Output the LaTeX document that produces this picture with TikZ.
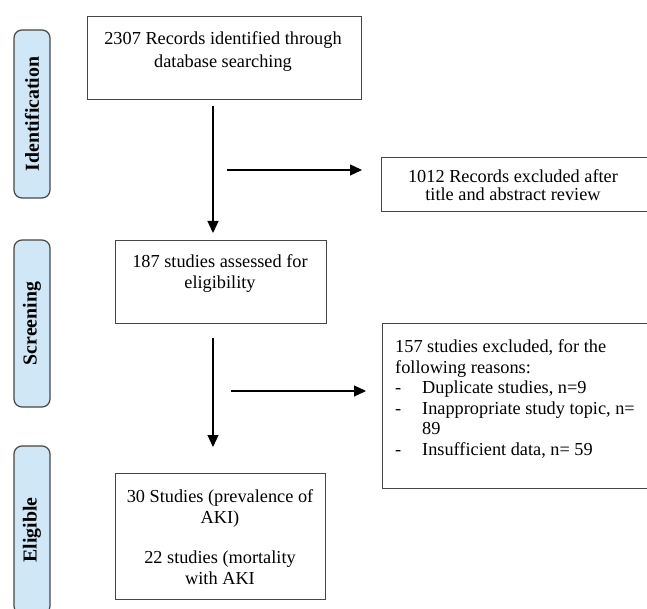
\documentclass[tikz,border=0pt]{standalone}
\usepackage{fontspec}
\setmainfont{Liberation Serif}
\usetikzlibrary{arrows.meta}
\definecolor{stagefill}{RGB}{207,231,246}
\definecolor{boxline}{RGB}{70,70,70}
\tikzset{
  stage/.style={draw=boxline, fill=stagefill, rounded corners=8pt, line width=1.2pt,
    rotate=90, minimum height=36pt, inner sep=0pt, font=\fontsize{19.8}{22}\selectfont\bfseries},
  recbox/.style={draw=boxline, line width=1.2pt, anchor=north west, inner sep=0pt},
  rectext/.style={align=center, inner sep=0pt, font=\fontsize{18.3}{20.5}\selectfont},
  flow/.style={-{Triangle[length=12pt,width=11pt]}, line width=1.2pt}
}

\begin{document}
\begin{tikzpicture}[x=1pt,y=-1pt]
	\useasboundingbox (0,0) rectangle (647,609);

	% stages on the left
	\node[stage, minimum width=168pt] (ident) at (32,114) {Identification};
	\node[stage, minimum width=167pt] (screen) at (32,323.5) {Screening};
	\node[stage, minimum width=168pt] (elig) at (32,530) {Eligible};

	% records
	\node[recbox, minimum width=274pt, minimum height=83pt] (recs) at (87,16) {};
	\node[rectext, font=\fontsize{18.3}{23}\selectfont] (recstxt) at (223,51.5) {2307 Records identified through\\database searching};

	\node[recbox, minimum width=280pt, minimum height=54pt] (excl) at (381,157) {};
	\node[rectext, font=\fontsize{18.3}{18.5}\selectfont] (excltxt) at (513,185) {1012 Records excluded after\\title and abstract review};

	% screening
	\node[recbox, minimum width=211pt, minimum height=83pt] (assess) at (115,240) {};
	\node[rectext] (assesstxt) at (220,273.5) {187 studies assessed for\\eligibility};

	\node[recbox, minimum width=280pt, minimum height=165pt] (reasons) at (382,323) {};
	\node[rectext, align=left, anchor=north west] (reasonstxt) at (395,339.5) {157 studies excluded, for the\\following reasons:\\
		\makebox[27pt][l]{-}Duplicate studies, n=9\\
		\makebox[27pt][l]{-}Inappropriate study topic, n=\\
		\hspace*{27pt}89\\
		\makebox[27pt][l]{-}Insufficient data, n= 59};

	% eligible
	\node[recbox, minimum width=210pt, minimum height=126pt] (incl) at (115,473) {};
	\node[rectext] (incltxt) at (220,537) {30 Studies (prevalence of\\AKI)\\[20pt]22 studies (mortality\\with AKI};

	% arrows
	\coordinate (d1top) at (213,106);
	\coordinate (d1end) at (213,233);
	\coordinate (h1start) at (227,170);
	\coordinate (h1end) at (362,170);
	\coordinate (d2top) at (213,338);
	\coordinate (d2end) at (213,447);
	\coordinate (h2start) at (231,391);
	\coordinate (h2end) at (366,391);

	\draw[flow] (d1top) -- (d1end);
	\draw[flow] (h1start) -- (h1end);
	\draw[flow] (d2top) -- (d2end);
	\draw[flow] (h2start) -- (h2end);

\end{tikzpicture}
\end{document}
